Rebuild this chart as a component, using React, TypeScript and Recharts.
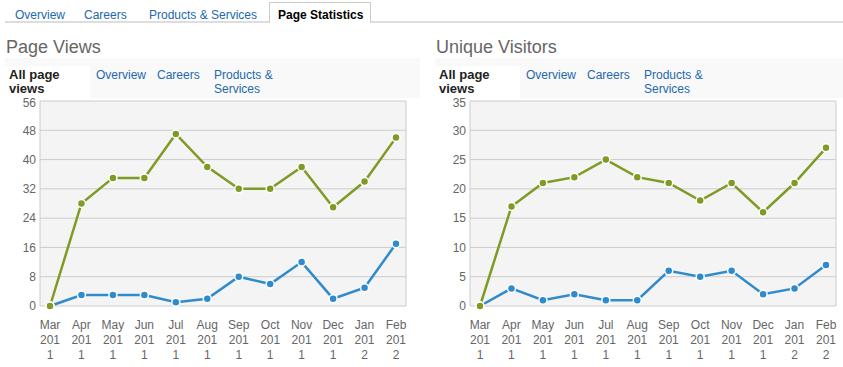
import React from 'react'
import { LineChart, Line, XAxis, YAxis, CartesianGrid } from 'recharts'

const months = ['Mar 2011', 'Apr 2011', 'May 2011', 'Jun 2011', 'Jul 2011', 'Aug 2011', 'Sep 2011', 'Oct 2011', 'Nov 2011', 'Dec 2011', 'Jan 2012', 'Feb 2012']

const viewsAll = [0, 28, 35, 35, 47, 38, 32, 32, 38, 27, 34, 46]
const viewsOverview = [0, 3, 3, 3, 1, 2, 8, 6, 12, 2, 5, 17]
const viewsTicks = [0, 8, 16, 24, 32, 40, 48, 56]

const visitorsAll = [0, 17, 21, 22, 25, 22, 21, 18, 21, 16, 21, 27]
const visitorsOverview = [0, 3, 1, 2, 1, 1, 6, 5, 6, 2, 3, 7]
const visitorsTicks = [0, 5, 10, 15, 20, 25, 30, 35]

const topTabs = ['Overview', 'Careers', 'Products & Services']

const FONT = 'Arial, "Liberation Sans", sans-serif'
const GREEN = '#7f9b25'
const BLUE = '#2f8bcc'
const LINK = '#2368ad'

// browser wraps "Mar 2011" in a narrow column as Mar / 201 / 1
const MonthTick = (props: any) => {
  const { x, y, payload } = props
  const [mon, year] = String(payload.value).split(' ')
  const lines = [mon, year.slice(0, 3), year.slice(3)]
  return (
    <text x={x} y={y} textAnchor="middle" fill="#666" fontSize={12} fontFamily={FONT}>
      {lines.map((l, i) => (
        <tspan key={i} x={x} dy={15}>{l}</tspan>
      ))}
    </text>
  )
}

interface PanelProps {
  title: string
  left: number
  width: number
  all: number[]
  overview: number[]
  ticks: number[]
}

function Panel({ title, left, width, all, overview, ticks }: PanelProps) {
  const data = months.map((m, i) => ({ month: m, all: all[i], overview: overview[i] }))
  const max = ticks[ticks.length - 1]
  return (
    <div style={{ position: 'absolute', left, top: 0, width, height: 367 }}>
      <div style={{ position: 'absolute', left: 6, top: 37, fontSize: 18, color: '#666', fontFamily: FONT }}>{title}</div>
      <div style={{ position: 'absolute', left: 5, top: 58, width: width - 5, height: 40, background: '#f9f9f9' }} />
      <div style={{ position: 'absolute', left: 5, top: 66, width: 85, height: 34, background: '#fff' }} />
      <div style={{ position: 'absolute', left: 9, top: 68, fontSize: 13, lineHeight: '14px', fontWeight: 'bold', color: '#222', fontFamily: FONT }}>
        All page<br />views
      </div>
      <div style={{ position: 'absolute', left: 96, top: 68, fontSize: 12, lineHeight: '14px', color: LINK, fontFamily: FONT }}>Overview</div>
      <div style={{ position: 'absolute', left: 157, top: 68, fontSize: 12, lineHeight: '14px', color: LINK, fontFamily: FONT }}>Careers</div>
      <div style={{ position: 'absolute', left: 214, top: 68, fontSize: 12, lineHeight: '14px', color: LINK, fontFamily: FONT }}>
        Products &amp;<br />Services
      </div>
      <div style={{ position: 'absolute', left: 0, top: 95 }}>
        <LineChart width={width} height={272} data={data} margin={{ top: 6, right: width - 406, left: 6, bottom: 6 }}>
          <CartesianGrid
            fill="#f4f4f4"
            stroke="#cccccc"
            verticalCoordinatesGenerator={({ offset }: any) => [offset.left, offset.left + offset.width]}
          />
          <XAxis
            dataKey="month"
            padding={{ left: 10, right: 10 }}
            axisLine={false}
            tickLine={false}
            height={55}
            interval={0}
            tick={<MonthTick />}
          />
          <YAxis
            width={34}
            domain={[0, max]}
            ticks={ticks}
            axisLine={false}
            tickLine={false}
            tickSize={0}
            tickMargin={4}
            tick={{ fill: '#666', fontSize: 12, fontFamily: FONT }}
          />
          <Line
            dataKey="overview"
            stroke={BLUE}
            strokeWidth={2.5}
            dot={{ r: 4, fill: BLUE, stroke: '#fff', strokeWidth: 1.5 }}
            isAnimationActive={false}
          />
          <Line
            dataKey="all"
            stroke={GREEN}
            strokeWidth={2.5}
            dot={{ r: 4, fill: GREEN, stroke: '#fff', strokeWidth: 1.5 }}
            isAnimationActive={false}
          />
        </LineChart>
      </div>
    </div>
  )
}

export default function App() {
  const tabX = [15, 84, 149]
  return (
    <div style={{ position: 'absolute', left: 0, top: 0, width: 843, height: 367, background: '#fff', overflow: 'hidden', fontFamily: FONT }}>
      <div style={{ position: 'absolute', left: 5, top: 21, width: 838, height: 2, background: '#dddddd' }} />
      {topTabs.map((t, i) => (
        <div key={t} style={{ position: 'absolute', left: tabX[i], top: 8, fontSize: 12, color: LINK }}>{t}</div>
      ))}
      <div
        style={{
          position: 'absolute', left: 269, top: 2, width: 102, height: 21, background: '#fff',
          border: '1px solid #cccccc', borderBottom: 'none', boxSizing: 'border-box',
        }}
      />
      <div style={{ position: 'absolute', left: 278, top: 8, fontSize: 12, fontWeight: 'bold', color: '#000' }}>Page Statistics</div>
      <Panel title="Page Views" left={0} width={420} all={viewsAll} overview={viewsOverview} ticks={viewsTicks} />
      <Panel title="Unique Visitors" left={430} width={413} all={visitorsAll} overview={visitorsOverview} ticks={visitorsTicks} />
    </div>
  )
}
